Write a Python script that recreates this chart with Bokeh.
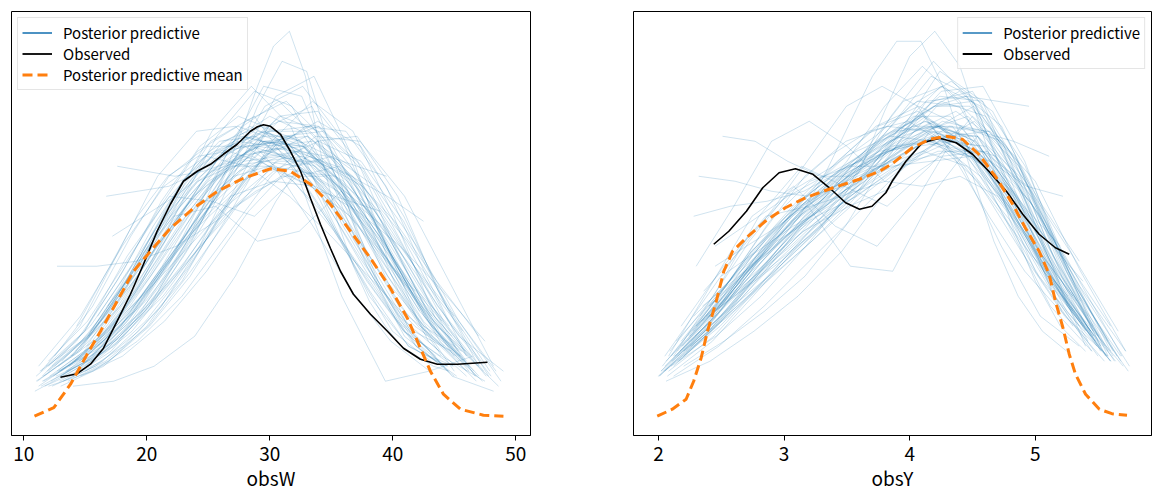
import numpy as np
from bokeh.plotting import figure
from bokeh.layouts import row
from bokeh.models import Range1d, Legend, LegendItem, FixedTicker
from bokeh.embed import file_html
from bokeh.resources import INLINE

FONT = "Noto Sans CJK JP"
PP_COLOR = "#1f77b4"
OBS_COLOR = "#000000"
MEAN_COLOR = "#ff7f0e"

# ---------------- obsW (left panel) ----------------
obsW_ticks = [10, 20, 30, 40, 50]

obsW_obs_x = [12.98, 14.34, 15.42, 16.48, 17.59, 18.67, 19.73, 20.84, 21.92, 22.98, 24.10,
              25.18, 26.23, 27.35, 28.43, 29.00, 29.49, 30.06, 30.87, 31.68, 32.50, 33.31,
              34.12, 34.93, 35.75, 36.80, 38.19, 39.57, 40.87, 42.25, 43.63, 45.26, 47.70]
obsW_obs_y = [7.8, 8.5, 10.4, 13.6, 19.0, 24.4, 30.4, 37.0, 42.4, 47.0, 49.0,
              50.4, 52.4, 54.4, 57.0, 57.9, 58.3, 58.0, 56.4, 53.0, 49.0, 43.6,
              38.4, 33.6, 29.0, 24.4, 20.4, 17.0, 13.6, 11.4, 10.4, 10.4, 10.8]

obsW_mean_x = [10.87, 12.44, 13.80, 15.15, 16.24, 17.59, 18.92, 20.30, 21.92, 23.80, 25.75,
               27.86, 30.06, 31.68, 33.31, 34.93, 36.56, 38.19, 39.81, 41.19, 42.25, 43.06,
               44.12, 45.50, 47.37, 49.00]
obsW_mean_y = [0.0, 1.7, 6.4, 12.4, 17.0, 23.0, 29.0, 33.0, 37.6, 41.6, 45.0,
               47.6, 49.5, 49.0, 46.4, 42.4, 37.0, 31.6, 25.6, 19.6, 13.6, 9.0,
               4.4, 1.4, 0.2, 0.0]

# each posterior predictive KDE: first x, last x, densities on an even grid between them
obsW_pp_start = [11.2, 12.0, 10.9, 13.1, 12.6, 14.2, 11.8, 15.1, 12.2, 13.5, 13.4, 15.0,
                 12.3, 17.6, 16.7, 12.7, 14.0, 12.0, 15.5, 13.0, 11.5, 12.8, 14.5, 11.0,
                 13.8, 12.4, 11.3, 13.2, 15.8, 12.0, 14.6, 11.6, 16.3, 13.0, 12.5, 14.2,
                 11.7, 13.6, 15.2, 12.9, 11.1, 14.8, 11.4, 13.3, 16.0,
                 12.1, 13.7, 11.4, 14.9, 12.7, 13.0, 16.8, 11.9, 14.4, 12.3, 15.6, 13.9,
                 11.6, 14.1, 12.9,
                 14.0, 15.0, 12.5, 16.0, 11.5, 13.0, 17.2, 12.0, 14.3, 11.2, 13.6, 12.8,
                 15.4, 11.0, 14.6]
obsW_pp_end = [46.8, 45.2, 48.6, 44.4, 47.3, 46.1, 43.1, 45.6, 48.4, 44.0, 44.6, 45.0,
               47.5, 41.0, 42.2, 45.0, 47.0, 46.0, 39.5, 42.5, 45.7, 49.0, 48.2, 46.5,
               44.8, 46.2, 45.0, 47.8, 44.0, 43.8, 46.8, 44.5, 45.3, 48.0, 43.5, 45.0,
               47.2, 46.4, 41.8, 45.9, 44.2, 47.4, 43.0, 46.0, 43.2,
               46.0, 45.4, 47.6, 44.2, 45.8, 46.6, 44.8, 44.9, 47.0, 45.5, 46.2, 43.9,
               46.9, 45.1, 47.9,
               45.0, 46.0, 44.5, 45.5, 46.0, 47.5, 42.8, 48.2, 39.0, 45.2, 46.7, 47.0,
               44.6, 43.8, 48.8]
obsW_pp_dens = [
    [6, 12, 22, 35, 47, 53, 51, 42, 29, 16, 7],
    [9, 16, 28, 40, 49, 52, 47, 37, 25, 14, 8],
    [5, 10, 19, 32, 45, 54, 55, 46, 31, 15, 6],
    [11, 19, 31, 44, 53, 56, 50, 38, 25, 14, 10],
    [8, 12, 21, 34, 47, 57, 58, 47, 30, 15, 7],
    [13, 21, 33, 44, 50, 50, 46, 40, 31, 20, 12],
    [10, 17, 29, 43, 54, 60, 57, 45, 30, 17, 11],
    [14, 25, 38, 49, 55, 54, 48, 38, 27, 18, 13],
    [7, 12, 20, 30, 41, 49, 51, 46, 35, 21, 9],
    [9, 15, 27, 42, 56, 65, 62, 48, 30, 16, 10],
    [9, 11, 14, 17, 20, 23, 27, 31, 36, 42, 49, 57, 66, 74, 77, 68, 52, 39, 30, 23, 18, 14, 12, 10, 9],
    [10, 14, 19, 25, 32, 40, 50, 62, 71, 69, 53, 37, 25, 17, 12, 10],
    [6, 10, 17, 27, 42, 58, 62, 45, 25, 12, 7],
    [50, 49, 48, 49, 51, 53, 54, 51, 44, 35, 26],
    [44, 45, 46, 49, 53, 56, 56, 51, 42, 31, 21],
    [30, 30, 31, 34, 39, 45, 49, 48, 41, 30, 20],
    [6, 7, 10, 16, 28, 43, 55, 56, 44, 25, 10],
    [10, 18, 30, 40, 42, 35, 37, 45, 38, 22, 11],
    [12, 18, 26, 35, 43, 49, 52, 53, 52, 50, 48],
    [8, 13, 21, 31, 40, 47, 51, 51, 48, 44, 39],
    [7, 12, 20, 31, 42, 50, 53, 50, 41, 28, 17],
    [9, 14, 22, 32, 42, 48, 48, 41, 29, 16, 9],
    [11, 18, 30, 44, 54, 55, 45, 31, 17, 8, 5],
    [7, 13, 26, 42, 55, 60, 48, 24, 7, 9, 12],
    [12, 20, 32, 45, 55, 58, 52, 40, 27, 17, 13],
    [8, 14, 25, 38, 49, 55, 54, 46, 33, 19, 9],
    [9, 15, 25, 36, 46, 53, 56, 52, 40, 24, 12],
    [7, 11, 18, 29, 41, 51, 55, 51, 39, 22, 8],
    [15, 22, 32, 42, 48, 50, 49, 45, 37, 27, 19],
    [11, 19, 31, 43, 52, 56, 54, 46, 33, 19, 11],
    [10, 16, 26, 39, 51, 60, 61, 51, 33, 17, 8],
    [8, 14, 23, 35, 48, 59, 63, 55, 36, 18, 9],
    [18, 28, 39, 47, 51, 52, 50, 44, 34, 22, 13],
    [6, 10, 18, 30, 44, 55, 58, 50, 35, 19, 8],
    [12, 22, 36, 48, 54, 54, 49, 41, 30, 19, 12],
    [9, 14, 22, 34, 49, 62, 66, 56, 38, 20, 9],
    [6, 10, 17, 28, 41, 52, 56, 50, 37, 22, 11],
    [10, 17, 28, 41, 51, 55, 51, 42, 30, 19, 12],
    [16, 26, 38, 48, 53, 54, 52, 47, 40, 32, 25],
    [9, 15, 24, 35, 45, 51, 52, 47, 37, 24, 13],
    [7, 13, 24, 38, 50, 56, 54, 44, 30, 17, 10],
    [11, 16, 24, 35, 47, 56, 57, 49, 34, 19, 9],
    [9, 18, 33, 48, 57, 58, 50, 38, 25, 15, 9],
    [8, 13, 21, 31, 42, 52, 58, 57, 46, 28, 12],
    [20, 30, 40, 47, 50, 51, 50, 46, 38, 28, 20],
    [8, 14, 25, 39, 51, 57, 55, 45, 31, 17, 9],
    [10, 17, 29, 42, 52, 57, 54, 44, 30, 18, 11],
    [6, 11, 20, 33, 46, 55, 56, 48, 34, 19, 8],
    [13, 22, 34, 46, 54, 57, 53, 43, 31, 20, 14],
    [9, 15, 26, 40, 52, 58, 55, 45, 32, 19, 11],
    [8, 13, 23, 36, 49, 57, 57, 48, 33, 18, 9],
    [22, 31, 41, 49, 54, 55, 52, 45, 35, 24, 16],
    [9, 16, 28, 42, 53, 58, 54, 43, 29, 16, 10],
    [9, 15, 25, 38, 51, 59, 58, 48, 32, 17, 8],
    [10, 17, 27, 39, 49, 54, 53, 46, 34, 21, 12],
    [12, 19, 30, 43, 54, 60, 57, 46, 31, 18, 10],
    [12, 21, 34, 47, 55, 56, 50, 39, 27, 17, 12],
    [7, 12, 21, 33, 45, 53, 54, 47, 34, 20, 10],
    [11, 18, 28, 40, 50, 55, 54, 47, 36, 23, 14],
    [7, 11, 19, 30, 43, 54, 59, 54, 40, 22, 9],
    [8, 13, 22, 35, 52, 66, 64, 46, 27, 14, 8],
    [9, 14, 22, 34, 50, 64, 68, 52, 30, 15, 8],
    [10, 17, 28, 42, 57, 66, 58, 40, 24, 14, 10],
    [14, 21, 31, 45, 58, 63, 56, 42, 28, 18, 12],
    [8, 17, 32, 44, 43, 40, 48, 50, 36, 20, 10],
    [9, 15, 25, 36, 44, 47, 46, 41, 34, 25, 15],
    [36, 40, 44, 49, 56, 60, 57, 47, 34, 23, 16],
    [6, 9, 15, 24, 36, 48, 56, 55, 44, 27, 10],
    [18, 29, 40, 48, 52, 53, 51, 48, 45, 43, 41],
    [10, 20, 34, 46, 52, 50, 44, 36, 27, 18, 12],
    [7, 11, 18, 28, 41, 55, 63, 57, 40, 20, 8],
    [10, 16, 24, 33, 42, 49, 52, 48, 39, 27, 16],
    [17, 27, 38, 47, 52, 53, 51, 45, 36, 26, 18],
    [8, 15, 27, 41, 53, 58, 55, 45, 32, 20, 13],
    [8, 12, 19, 29, 41, 50, 52, 46, 34, 19, 7],
]

# ---------------- obsY (right panel) ----------------
obsY_ticks = [2, 3, 4, 5]

obsY_obs_x = [2.44, 2.56, 2.70, 2.83, 2.96, 3.09, 3.23, 3.36, 3.49, 3.60, 3.70, 3.81,
              3.86, 3.97, 4.10, 4.24, 4.37, 4.50, 4.63, 4.77, 4.90, 5.03, 5.16, 5.27]
obsY_obs_y = [34.4, 37.0, 41.0, 45.7, 48.7, 49.5, 48.4, 45.7, 42.7, 41.4, 42.0, 44.7,
              47.0, 51.0, 54.7, 55.6, 54.7, 52.4, 49.0, 45.0, 40.4, 36.4, 33.7, 32.4]

obsY_mean_x = [1.99, 2.11, 2.22, 2.28, 2.34, 2.39, 2.46, 2.52, 2.59, 2.70, 2.85, 3.01,
               3.17, 3.39, 3.60, 3.76, 3.86, 4.02, 4.16, 4.29, 4.42, 4.55, 4.69, 4.82,
               4.92, 5.03, 5.11, 5.16, 5.22, 5.27, 5.32, 5.40, 5.51, 5.61, 5.73]
obsY_mean_y = [0.0, 1.4, 3.4, 7.0, 11.7, 17.0, 23.0, 29.0, 33.0, 35.7, 39.0, 41.7,
               43.7, 45.7, 47.4, 49.0, 50.5, 53.7, 55.4, 56.0, 55.4, 52.4, 47.7, 42.4,
               37.7, 33.0, 28.4, 23.0, 17.7, 12.4, 8.4, 4.4, 1.4, 0.5, 0.2]

obsY_pp_start = [2.00, 2.10, 2.15, 2.05, 2.25, 2.30, 2.12, 2.40, 2.35, 2.20, 2.51, 2.32,
                 2.45, 2.28, 2.18, 2.08, 2.22, 2.02, 2.40, 2.14, 2.26, 2.05, 2.30, 2.36,
                 2.12, 2.18, 2.03, 2.44, 2.20, 2.10, 2.34, 2.07, 2.28, 2.16, 2.24, 2.50,
                 2.00, 2.13, 2.38, 2.09, 2.06, 2.20,
                 2.11, 2.19, 2.04, 2.27, 2.15, 2.33, 2.08, 2.23, 2.42, 2.01, 2.17, 2.29, 2.06,
                 2.25, 2.15, 2.30, 2.40, 2.20, 2.05, 2.35, 2.12, 2.28, 2.45, 2.10, 2.18,
                 2.26, 2.02, 2.38]
obsY_pp_end = [5.70, 5.60, 5.45, 5.72, 5.35, 5.50, 5.58, 5.40, 5.25, 5.60, 5.10, 5.22,
               4.95, 5.11, 5.55, 5.40, 5.62, 5.50, 5.68, 5.35, 5.46, 5.64, 5.30, 5.20,
               5.72, 5.48, 5.58, 5.42, 5.75, 5.30, 5.52, 5.66, 5.38, 5.60, 5.46, 5.36,
               5.52, 5.44, 5.60, 5.26, 5.56, 5.42,
               5.57, 5.49, 5.63, 5.41, 5.53, 5.33, 5.69, 5.44, 5.58, 5.62, 5.39, 5.51, 5.47,
               5.45, 5.55, 5.30, 5.50, 5.60, 5.40, 5.65, 5.52, 5.20, 5.35, 5.68, 5.46,
               5.58, 5.44, 5.74]
obsY_pp_dens = [
    [8, 16, 27, 37, 44, 51, 56, 50, 36, 21, 10],
    [11, 20, 31, 39, 45, 52, 57, 52, 37, 21, 11],
    [13, 22, 33, 42, 47, 54, 60, 54, 38, 22, 13],
    [9, 17, 28, 37, 42, 46, 52, 53, 42, 26, 13],
    [16, 26, 36, 43, 49, 56, 60, 50, 34, 20, 14],
    [18, 27, 35, 40, 44, 50, 57, 56, 44, 28, 16],
    [10, 18, 29, 40, 48, 54, 55, 47, 33, 20, 12],
    [20, 24, 28, 32, 36, 41, 49, 61, 72, 77, 70, 55, 39, 27, 18, 13],
    [22, 26, 30, 34, 40, 48, 58, 68, 75, 75, 65, 50, 35, 24, 17, 13],
    [12, 20, 28, 36, 44, 56, 69, 63, 42, 22, 11],
    [56, 55, 51, 48, 48, 51, 55, 56, 52, 44, 35],
    [48, 47, 45, 44, 46, 50, 54, 55, 51, 46, 44],
    [30, 34, 38, 43, 48, 53, 58, 62, 64, 63, 62],
    [20, 27, 35, 42, 48, 53, 57, 58, 57, 55, 52],
    [18, 30, 40, 42, 30, 29, 45, 56, 48, 28, 14],
    [12, 26, 40, 46, 38, 34, 44, 58, 55, 34, 14],
    [13, 21, 30, 38, 45, 53, 59, 57, 45, 28, 13],
    [9, 18, 30, 40, 46, 50, 53, 50, 39, 24, 12],
    [22, 30, 37, 43, 50, 57, 61, 55, 40, 24, 12],
    [15, 24, 34, 43, 51, 58, 61, 55, 42, 28, 18],
    [14, 21, 28, 35, 43, 53, 63, 65, 52, 32, 17],
    [10, 19, 31, 43, 52, 56, 55, 48, 36, 22, 11],
    [30, 42, 55, 59, 54, 47, 46, 48, 44, 34, 24],
    [25, 33, 42, 52, 62, 66, 62, 52, 40, 29, 21],
    [8, 14, 22, 31, 40, 49, 56, 57, 47, 29, 13],
    [14, 23, 34, 44, 50, 53, 55, 52, 41, 26, 15],
    [10, 21, 33, 41, 44, 47, 54, 59, 50, 30, 12],
    [24, 31, 38, 44, 50, 55, 58, 55, 45, 31, 20],
    [13, 20, 28, 36, 44, 51, 55, 52, 40, 24, 10],
    [12, 22, 33, 41, 46, 52, 58, 58, 47, 32, 21],
    [19, 25, 31, 38, 47, 58, 66, 62, 45, 26, 14],
    [8, 15, 25, 35, 43, 49, 53, 53, 46, 32, 17],
    [17, 26, 35, 43, 49, 53, 55, 53, 46, 36, 27],
    [11, 19, 29, 40, 50, 57, 58, 51, 37, 22, 11],
    [16, 27, 39, 47, 50, 50, 51, 52, 45, 31, 18],
    [28, 33, 38, 42, 47, 54, 62, 63, 52, 35, 23],
    [8, 17, 29, 39, 45, 50, 57, 60, 49, 29, 13],
    [12, 20, 30, 40, 47, 54, 59, 56, 43, 27, 16],
    [20, 28, 36, 43, 48, 51, 53, 51, 43, 30, 18],
    [13, 23, 35, 45, 52, 57, 59, 54, 44, 33, 24],
    [7, 11, 17, 24, 33, 45, 57, 62, 51, 30, 12],
    [10, 15, 21, 28, 38, 51, 63, 64, 49, 29, 15],
    [11, 19, 29, 39, 47, 53, 57, 53, 40, 24, 12],
    [14, 23, 33, 42, 48, 53, 58, 56, 44, 27, 14],
    [9, 17, 28, 38, 45, 51, 56, 54, 42, 25, 11],
    [17, 26, 36, 44, 50, 55, 58, 53, 41, 27, 17],
    [12, 21, 31, 40, 47, 54, 59, 55, 42, 25, 13],
    [20, 29, 38, 45, 51, 56, 59, 55, 45, 33, 23],
    [9, 16, 26, 36, 44, 50, 55, 54, 44, 28, 12],
    [15, 24, 34, 42, 48, 53, 57, 55, 45, 30, 17],
    [21, 28, 35, 41, 47, 53, 58, 57, 46, 29, 15],
    [8, 17, 29, 40, 48, 53, 56, 52, 40, 25, 12],
    [13, 22, 32, 41, 49, 56, 60, 55, 43, 29, 18],
    [16, 24, 33, 41, 47, 52, 56, 56, 46, 30, 16],
    [11, 20, 32, 42, 49, 53, 55, 52, 42, 28, 16],
    [14, 22, 31, 40, 48, 58, 68, 64, 45, 25, 13],
    [11, 18, 27, 36, 46, 60, 71, 62, 40, 21, 11],
    [18, 26, 34, 42, 51, 62, 70, 63, 46, 29, 18],
    [22, 29, 36, 44, 53, 63, 66, 58, 42, 26, 15],
    [13, 21, 30, 39, 48, 57, 64, 63, 50, 30, 13],
    [12, 24, 36, 45, 50, 56, 63, 62, 48, 30, 17],
    [19, 26, 34, 43, 53, 62, 67, 61, 45, 26, 12],
    [12, 25, 40, 50, 46, 42, 50, 60, 52, 31, 14],
    [40, 42, 43, 45, 49, 55, 60, 60, 52, 42, 34],
    [34, 39, 44, 48, 52, 57, 62, 62, 54, 42, 31],
    [10, 16, 24, 34, 45, 56, 63, 60, 45, 26, 11],
    [15, 25, 37, 48, 55, 58, 57, 52, 41, 27, 16],
    [15, 22, 29, 37, 46, 56, 65, 66, 51, 29, 13],
    [9, 17, 28, 40, 50, 58, 62, 58, 45, 29, 17],
    [20, 27, 34, 42, 51, 60, 65, 58, 40, 21, 9],
]

Y_RANGE = (-3.86, 80.96)
PAGE_OFFSET = 8


def make_panel(label, ticks, x_range, pp_start, pp_end, pp_dens, obs_x, obs_y,
               mean_x, mean_y, with_mean_legend, legend_loc, b_left, b_right, f_width):
    p = figure(frame_width=f_width, frame_height=424,
               x_range=Range1d(*x_range), y_range=Range1d(*Y_RANGE),
               y_axis_location=None, output_backend="svg", toolbar_location=None,
               min_border_left=b_left, min_border_right=b_right,
               min_border_top=3 + PAGE_OFFSET, min_border_bottom=56)
    p.grid.visible = False
    p.outline_line_color = "black"
    p.outline_line_width = 1
    p.outline_line_alpha = 1
    p.background_fill_color = "white"
    p.border_fill_color = "white"

    ax = p.xaxis[0]
    ax.ticker = FixedTicker(ticks=ticks)
    ax.axis_label = label
    ax.axis_label_text_font = FONT
    ax.axis_label_text_font_size = "19px"
    ax.axis_label_text_font_style = "normal"
    ax.axis_label_text_color = "black"
    ax.axis_label_standoff = 0
    ax.major_label_text_font = FONT
    ax.major_label_text_font_size = "19px"
    ax.major_label_text_color = "black"
    ax.major_label_standoff = 6
    ax.major_tick_out = 5
    ax.major_tick_in = 0
    ax.minor_tick_out = 0
    ax.minor_tick_in = 0
    ax.axis_line_color = "black"
    ax.major_tick_line_color = "black"

    xs = [list(np.linspace(a, b, len(d))) for a, b, d in zip(pp_start, pp_end, pp_dens)]
    p.multi_line(xs, pp_dens, line_color=PP_COLOR, line_alpha=0.3, line_width=0.7)
    p.line(obs_x, obs_y, line_color=OBS_COLOR, line_width=1.6)
    p.line(mean_x, mean_y, line_color=MEAN_COLOR, line_width=3, line_dash="10 5")

    # legend handles (drawn outside the visible ranges)
    hx = [x_range[0] - 10, x_range[0] - 9]
    hy = [-100, -100]
    h_pp = p.line(x=hx, y=hy, line_color=PP_COLOR, line_width=1.6)
    h_obs = p.line(x=hx, y=hy, line_color=OBS_COLOR, line_width=1.8)
    items = [LegendItem(label="Posterior predictive", renderers=[h_pp]),
             LegendItem(label="Observed", renderers=[h_obs])]
    if with_mean_legend:
        h_mean = p.line(x=hx, y=hy, line_color=MEAN_COLOR, line_width=3, line_dash="10 5")
        items.append(LegendItem(label="Posterior predictive mean", renderers=[h_mean]))
    leg = Legend(items=items, location=legend_loc)
    leg.label_text_font = FONT
    leg.label_text_font_size = "15px"
    leg.label_text_color = "black"
    leg.glyph_width = 30
    leg.glyph_height = 21
    leg.label_height = 21
    leg.label_standoff = 11
    leg.spacing = 0
    leg.padding = 4
    leg.margin = 6
    leg.border_line_color = "#cccccc"
    leg.border_line_width = 1
    leg.background_fill_alpha = 0.8
    p.add_layout(leg)
    return p


p1 = make_panel("obsW", obsW_ticks, (9.0, 51.2), obsW_pp_start, obsW_pp_end, obsW_pp_dens,
                obsW_obs_x, obsW_obs_y, obsW_mean_x, obsW_mean_y, True, "top_left",
                3 + PAGE_OFFSET, 51, 519)
p2 = make_panel("obsY", obsY_ticks, (1.801, 5.925), obsY_pp_start, obsY_pp_end, obsY_pp_dens,
                obsY_obs_x, obsY_obs_y, obsY_mean_x, obsY_mean_y, False, "top_right",
                52, 1, 518)

layout = row(p1, p2)
open("out.html", "w").write(file_html(layout, INLINE))
